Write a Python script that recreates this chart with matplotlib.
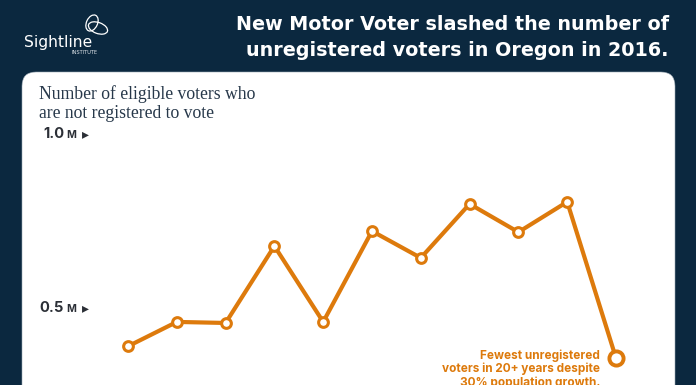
import matplotlib
matplotlib.use("Agg")
import matplotlib.pyplot as plt
from matplotlib.patches import FancyBboxPatch, Ellipse

years = [1996, 1998, 2000, 2002, 2004, 2006, 2008, 2010, 2012, 2014, 2016]
unregistered = [0.39, 0.46, 0.457, 0.678, 0.46, 0.721, 0.644, 0.799, 0.718, 0.805, 0.356]
tick_vals = [1.0, 0.5]
tick_labels = ["1.0", "0.5"]

navy = "#0b283f"
orange = "#dd7a0c"
dark = "#2b2f36"

fig = plt.figure(figsize=(6.96, 3.85), dpi=100, facecolor=navy)

# background layer in pixels
bg = fig.add_axes([0, 0, 1, 1])
bg.set_xlim(0, 696)
bg.set_ylim(385, 0)
bg.axis("off")
bg.add_patch(FancyBboxPatch((36, 86), 625, 340, boxstyle="round,pad=14,rounding_size=14",
                            fc="white", ec="#9aa8b3", lw=0.4))

# logo
bg.add_patch(Ellipse((92, 23), 11, 17, angle=25, fc="none", ec="white", lw=0.9))
bg.add_patch(Ellipse((98, 28), 20, 11, angle=20, fc="none", ec="white", lw=0.9))
bg.text(24, 42, "Sightline", color="white", fontsize=11.2, family="DejaVu Sans",
        va="center", ha="left")
bg.text(98, 52.5, "INSTITUTE", color="#dfe5ea", fontsize=3.7, family="DejaVu Sans",
        va="center", ha="right")

# title
bg.text(669, 24.5, "New Motor Voter slashed the number of", color="white", fontsize=13.8,
        family="DejaVu Sans", weight="bold", va="center", ha="right")
bg.text(669, 50, "unregistered voters in Oregon in 2016.", color="white", fontsize=13.8,
        family="DejaVu Sans", weight="bold", va="center", ha="right")

# subtitle
bg.text(39, 94, "Number of eligible voters who", color="#27384a", fontsize=12.7,
        family="Liberation Serif", va="center")
bg.text(39, 113, "are not registered to vote", color="#27384a", fontsize=12.7,
        family="Liberation Serif", va="center")

# chart layer, same area as the figure so the scales line up with the panel
ax = fig.add_axes([0, 0, 1, 1])
ax.patch.set_alpha(0)
ax.axis("off")
ax.set_xlim(1996 - 128 / 24.4, 1996 + 568 / 24.4)
ax.set_ylim(97 / 348, 482 / 348)

for v, lab in zip(tick_vals, tick_labels):
    ax.annotate(lab, (1996, v), xytext=(-64, 0), textcoords="offset pixels",
                color=dark, fontsize=10.6, family="Inter", weight="bold", va="center", ha="right")
    ax.annotate("M", (1996, v), xytext=(-62, -1), textcoords="offset pixels",
                color=dark, fontsize=7.6, family="Inter", weight="bold", va="center", ha="left")
    ax.annotate("\u25b8", (1996, v), xytext=(-46, 0), textcoords="offset pixels",
                color=dark, fontsize=10, family="DejaVu Sans", va="center", ha="left")

ax.plot(years, unregistered, color=orange, lw=3.0, solid_joinstyle="round", zorder=2)
ax.plot(years[:-1], unregistered[:-1], ls="none", marker="o", ms=7.0, mfc="white", mec=orange,
        mew=2.2, zorder=3)
ax.plot(years[-1:], unregistered[-1:], ls="none", marker="o", ms=10.2, mfc="white", mec=orange,
        mew=2.8, zorder=3)

# callout
note = ["Fewest unregistered", "voters in 20+ years despite", "30% population growth."]
for i, line in enumerate(note):
    ax.annotate(line, (2016, unregistered[-1]), xytext=(-16, 2.5 - 13.6 * i), textcoords="offset pixels",
                color=orange, fontsize=8.5, family="Inter", weight="bold", va="center", ha="right",
                annotation_clip=False)

fig.savefig("out.png", dpi=100, facecolor=navy)
